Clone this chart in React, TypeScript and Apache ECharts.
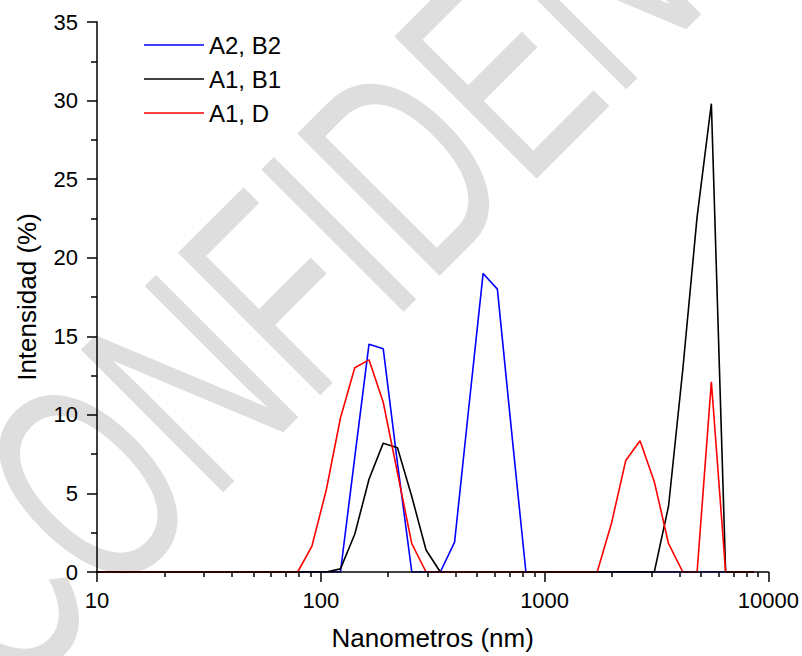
import React, { useEffect, useRef } from "react";
import * as echarts from "echarts";

// Particle size bins (nm)
const sizes = [
  8.721, 10.1, 11.7, 13.54, 15.69, 18.17, 21.04, 24.36, 28.21, 32.67, 37.84, 43.82,
  50.75, 58.77, 68.06, 78.82, 91.28, 105.7, 122.4, 141.8, 164.2, 190.1, 220.2, 255.0,
  295.3, 342.0, 396.1, 458.7, 531.2, 615.1, 712.4, 825.0, 955.4, 1106, 1281, 1484,
  1718, 1990, 2305, 2669, 3091, 3580, 4145, 4801, 5560, 6439, 7456, 8635,
];

// Intensity (%) per bin
const a2b2 = [
  0, 0, 0, 0, 0, 0, 0, 0, 0, 0, 0, 0,
  0, 0, 0, 0, 0, 0, 0, 7.3, 14.5, 14.2, 6.9, 0,
  0, 0, 1.9, 10.5, 19.0, 18.0, 8.9, 0, 0, 0, 0, 0,
  0, 0, 0, 0, 0, 0, 0, 0, 0, 0, 0, 0,
];
const a1b1 = [
  0, 0, 0, 0, 0, 0, 0, 0, 0, 0, 0, 0,
  0, 0, 0, 0, 0, 0, 0.2, 2.4, 5.9, 8.2, 7.9, 4.8,
  1.4, 0, 0, 0, 0, 0, 0, 0, 0, 0, 0, 0,
  0, 0, 0, 0, 0, 4.2, 12.9, 22.6, 29.8, 0, 0, 0,
];
const a1d = [
  0, 0, 0, 0, 0, 0, 0, 0, 0, 0, 0, 0,
  0, 0, 0, 0, 1.65, 5.2, 9.8, 13.0, 13.5, 10.8, 6.3, 1.8,
  0, 0, 0, 0, 0, 0, 0, 0, 0, 0, 0, 0,
  0, 3.1, 7.1, 8.35, 5.75, 1.8, 0, 0, 12.1, 0, 0, 0,
];

const seriesNames = ["A2, B2", "A1, B1", "A1, D"];
const seriesColors = ["#0000ff", "#000000", "#ff0000"];
const seriesValues = [a2b2, a1b1, a1d];

const FONT = "Liberation Sans, Arial, sans-serif";

export default function App() {
  const ref = useRef<HTMLDivElement>(null);
  useEffect(() => {
    if (!ref.current) return;
    const chart = echarts.init(ref.current, undefined, { renderer: "svg" });
    const axisCommon = {
      axisLine: { show: true, lineStyle: { color: "#000", width: 1.5 } },
      axisTick: { show: true, length: 10, inside: false, lineStyle: { color: "#000", width: 1.5 } },
      splitLine: { show: false },
      minorSplitLine: { show: false },
      z: 5,
    };
    chart.setOption({
      animation: false,
      backgroundColor: "#ffffff",
      textStyle: { fontFamily: FONT },
      graphic: [
        {
          type: "text",
          x: -61,
          y: 633,
          rotation: Math.PI / 4,
          scaleX: 1,
          scaleY: 1.54,
          z: -10,
          silent: true,
          style: {
            text: "CONFIDENTIAL",
            fontSize: 190,
            fontFamily: FONT,
            fill: "#dedede",
            textAlign: "left",
            textVerticalAlign: "middle",
          },
        },
      ],
      grid: { left: 97, right: 33, top: 22, bottom: 84, containLabel: false },
      legend: {
        orient: "vertical",
        left: 139,
        top: 28,
        itemWidth: 60,
        itemHeight: 14,
        itemGap: 10,
        icon: "path://M0,0H60V1.6H0Z",
        textStyle: { fontSize: 24, color: "#000", fontFamily: FONT },
        data: seriesNames,
      },
      xAxis: {
        type: "log",
        logBase: 10,
        min: 10,
        max: 10000,
        name: "Nanometros (nm)",
        nameLocation: "middle",
        nameGap: 53,
        nameTextStyle: { fontSize: 26, color: "#000", fontFamily: FONT },
        ...axisCommon,
        minorTick: { show: true, splitNumber: 9, length: 5, lineStyle: { color: "#000", width: 1.5 } },
        axisLabel: {
          fontSize: 22,
          color: "#000",
          margin: 17,
          fontFamily: FONT,
          formatter: (v: number) => String(Math.round(v)),
        },
      },
      yAxis: {
        type: "value",
        min: 0,
        max: 35,
        interval: 5,
        name: "Intensidad (%)",
        nameLocation: "middle",
        nameGap: 57,
        nameTextStyle: { fontSize: 26, color: "#000", fontFamily: FONT },
        ...axisCommon,
        minorTick: { show: true, splitNumber: 2, length: 6, lineStyle: { color: "#000", width: 1.5 } },
        axisLabel: { fontSize: 22, color: "#000", margin: 19, fontFamily: FONT },
      },
      series: seriesNames.map((name, k) => ({
        name,
        type: "line",
        data: sizes.map((s, i) => [s, seriesValues[k][i]]),
        symbol: "none",
        showSymbol: false,
        color: seriesColors[k],
        lineStyle: { color: seriesColors[k], width: 1.6 },
        clip: true,
      })),
    });
    return () => chart.dispose();
  }, []);
  return (
    <div
      ref={ref}
      style={{ position: "fixed", left: 0, top: 0, width: 802, height: 656 }}
    />
  );
}
